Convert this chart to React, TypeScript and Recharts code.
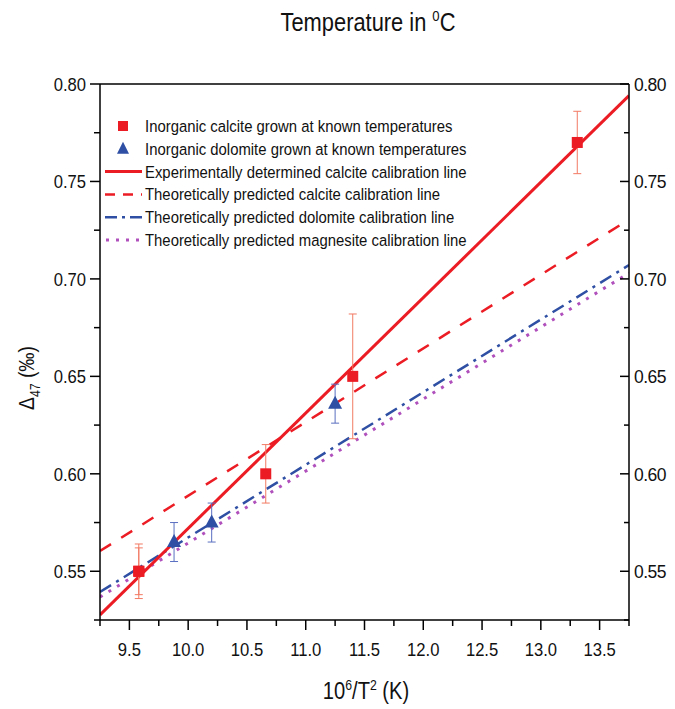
import React from 'react';
import { ComposedChart, Line, Scatter, XAxis, YAxis, ErrorBar, Legend } from 'recharts';

const W = 675;
const H = 709;
const FONT = "'Liberation Sans', Arial, sans-serif";
const SX = 0.875; // horizontal squeeze, the original uses a narrow Helvetica

// axes
const xDomain = [9.25, 13.75];
const yDomain = [0.525, 0.8];
const xTicks = [9.25, 9.5, 9.75, 10.0, 10.25, 10.5, 10.75, 11.0, 11.25, 11.5, 11.75, 12.0, 12.25, 12.5, 12.75, 13.0, 13.25, 13.5, 13.75];
const yTicks = [0.525, 0.55, 0.575, 0.6, 0.625, 0.65, 0.675, 0.7, 0.725, 0.75, 0.775, 0.8];
const tempTicks = [50, 40, 30, 20, 10, 0];
const tempPos = tempTicks.map((t) => 1e6 / Math.pow(t + 273.15, 2));

// inorganic calcite (red squares)
const calciteX = [9.58, 9.58, 10.66, 11.4, 13.31];
const calciteY = [0.55, 0.55, 0.6, 0.65, 0.77];
const calciteErr = [0.014, 0.012, 0.015, 0.032, 0.016];

// inorganic dolomite (blue triangles)
const dolomiteX = [9.88, 10.2, 11.25];
const dolomiteY = [0.565, 0.575, 0.636];
const dolomiteErr = [0.01, 0.01, 0.01];

// calibration lines, end points at the axis limits
const lineX = [9.25, 13.75];
const expCalcite = [0.5276, 0.794];
const theoCalcite = [0.5604, 0.7305];
const theoDolomite = [0.5394, 0.7071];
const theoMagnesite = [0.5368, 0.703];

const RED = '#ec1c24';
const BLUE = '#2e4fa3';
const MAGENTA = '#b050bc';

const lineRows = lineX.map((x, i) => ({
  x,
  exp: expCalcite[i],
  calc: theoCalcite[i],
  dolo: theoDolomite[i],
  magn: theoMagnesite[i],
}));
const calciteRows = calciteX.map((x, i) => ({ x, y: calciteY[i], err: calciteErr[i] }));
const dolomiteRows = dolomiteX.map((x, i) => ({ x, y: dolomiteY[i], err: dolomiteErr[i] }));

const legendItems = [
  { label: 'Inorganic calcite grown at known temperatures', kind: 'square' },
  { label: 'Inorganic dolomite grown at known temperatures', kind: 'triangle' },
  { label: 'Experimentally determined calcite calibration line', kind: 'solid' },
  { label: 'Theoretically predicted calcite calibration line', kind: 'dashed' },
  { label: 'Theoretically predicted dolomite calibration line', kind: 'dashdot' },
  { label: 'Theoretically predicted magnesite calibration line', kind: 'dotted' },
];

const isMajor = (v: number, step: number) => Math.abs(v / step - Math.round(v / step)) < 1e-6;

// narrow text helper
const NText = ({ x, y, size, anchor = 'start', rotate = 0, children }: any) => (
  <text
    transform={`translate(${x},${y}) rotate(${rotate}) scale(${SX},1)`}
    textAnchor={anchor}
    fontSize={size}
    fontFamily={FONT}
    fill="#111"
  >
    {children}
  </text>
);

const BottomTick = (p: any) => {
  const { x, y, payload } = p;
  const major = isMajor(payload.value, 0.5);
  return (
    <g>
      <line x1={x} x2={x} y1={y} y2={y + (major ? 10 : 6)} stroke="#000" strokeWidth={1.5} />
      {major && (
        <NText x={x} y={y + 36} size={19} anchor="middle">
          {payload.value.toFixed(1)}
        </NText>
      )}
    </g>
  );
};

const TopTick = (p: any) => {
  const { x, y, index } = p;
  return (
    <g>
      <line x1={x} x2={x} y1={y} y2={y + 12} stroke="#000" strokeWidth={1.5} />
      <text x={x} y={y - 9} textAnchor="middle" fontSize={19.5} letterSpacing={-0.8} fontFamily={FONT} fill="#111">
        {tempTicks[index]}
      </text>
    </g>
  );
};

const LeftTick = (p: any) => {
  const { x, y, payload } = p;
  const major = isMajor(payload.value, 0.05);
  return (
    <g>
      <line x1={x} x2={x - (major ? 10 : 6)} y1={y} y2={y} stroke="#000" strokeWidth={1.5} />
      {major && (
        <NText x={x - 14} y={y + 7} size={19} anchor="end">
          {payload.value.toFixed(2)}
        </NText>
      )}
    </g>
  );
};

const RightTick = (p: any) => {
  const { x, y, payload } = p;
  const major = isMajor(payload.value, 0.05);
  return (
    <g>
      <line x1={x} x2={x - (major ? 9 : 5)} y1={y} y2={y} stroke="#000" strokeWidth={1.5} />
      {major && (
        <text x={x + 5} y={y + 7} fontSize={17.5} letterSpacing={-0.5} fontFamily={FONT} fill="#111">
          {payload.value.toFixed(2)}
        </text>
      )}
    </g>
  );
};

const Square = (p: any) => <rect x={p.cx - 5.5} y={p.cy - 5.5} width={11} height={11} fill={RED} />;
const Triangle = (p: any) => (
  <path d={`M${p.cx},${p.cy - 8}L${p.cx + 7},${p.cy + 5}L${p.cx - 7},${p.cy + 5}Z`} fill={BLUE} />
);

const LegendBox = () => (
  <svg width={400} height={145} style={{ overflow: 'visible' }}>
    {legendItems.map((it, i) => {
      const cy = 14 + i * 22.8;
      let mark: React.ReactNode = null;
      if (it.kind === 'square') mark = <rect x={18} y={cy - 5} width={10} height={10} fill={RED} />;
      if (it.kind === 'triangle') mark = <path d={`M23,${cy - 7}L29,${cy + 5}L17,${cy + 5}Z`} fill={BLUE} />;
      if (it.kind === 'solid') mark = <line x1={5} x2={42} y1={cy} y2={cy} stroke={RED} strokeWidth={3} />;
      if (it.kind === 'dashed') mark = <line x1={5} x2={42} y1={cy} y2={cy} stroke={RED} strokeWidth={2.5} strokeDasharray="10 8" />;
      if (it.kind === 'dashdot') mark = <line x1={5} x2={42} y1={cy} y2={cy} stroke={BLUE} strokeWidth={2.5} strokeDasharray="12 5 3 5" />;
      if (it.kind === 'dotted') mark = <line x1={6} x2={42} y1={cy} y2={cy} stroke={MAGENTA} strokeWidth={3} strokeDasharray="3 7" />;
      return (
        <g key={it.label}>
          {mark}
          <NText x={45} y={cy + 6} size={17}>
            {it.label}
          </NText>
        </g>
      );
    })}
  </svg>
);

export default function App() {
  return (
    <div style={{ position: 'absolute', left: 0, top: 0, width: W, height: H, background: '#fff' }}>
      <ComposedChart width={W} height={H} data={lineRows} margin={{ top: 54, right: 6, bottom: 59, left: 60 }}>
        <XAxis
          dataKey="x"
          type="number"
          domain={xDomain}
          allowDataOverflow
          ticks={xTicks}
          interval={0}
          height={30}
          tickSize={0}
          tickMargin={0}
          tick={<BottomTick />}
          axisLine={{ stroke: '#000', strokeWidth: 1.5 }}
          tickLine={false}
        />
        <XAxis
          xAxisId="top"
          orientation="top"
          type="number"
          domain={xDomain}
          allowDataOverflow
          ticks={tempPos}
          interval={0}
          height={30}
          tickSize={0}
          tickMargin={0}
          tick={<TopTick />}
          axisLine={{ stroke: '#000', strokeWidth: 1.5 }}
          tickLine={false}
        />
        <YAxis
          type="number"
          domain={yDomain}
          allowDataOverflow
          ticks={yTicks}
          interval={0}
          width={40}
          tickSize={0}
          tickMargin={0}
          tick={<LeftTick />}
          axisLine={{ stroke: '#000', strokeWidth: 1.5 }}
          tickLine={false}
        />
        <YAxis
          yAxisId="right"
          orientation="right"
          type="number"
          domain={yDomain}
          allowDataOverflow
          ticks={yTicks}
          interval={0}
          width={40}
          tickSize={0}
          tickMargin={0}
          tick={<RightTick />}
          axisLine={{ stroke: '#000', strokeWidth: 1.5 }}
          tickLine={false}
        />
        <Legend
          layout="vertical"
          align="center"
          verticalAlign="middle"
          content={<LegendBox />}
          wrapperStyle={{ position: 'absolute', left: 100, top: 112, width: 400, height: 145 }}
        />
        <Line dataKey="magn" stroke={MAGENTA} strokeWidth={3} strokeDasharray="3 7" dot={false} activeDot={false} isAnimationActive={false} />
        <Line dataKey="dolo" stroke={BLUE} strokeWidth={2.5} strokeDasharray="13 6 3 6" dot={false} activeDot={false} isAnimationActive={false} />
        <Line dataKey="calc" stroke={RED} strokeWidth={2.5} strokeDasharray="13 12" dot={false} activeDot={false} isAnimationActive={false} />
        <Line dataKey="exp" stroke={RED} strokeWidth={3} dot={false} activeDot={false} isAnimationActive={false} />
        <Scatter data={calciteRows} dataKey="y" shape={<Square />} isAnimationActive={false}>
          <ErrorBar dataKey="err" direction="y" width={4} stroke="#f27a63" strokeWidth={1} />
        </Scatter>
        <Scatter data={dolomiteRows} dataKey="y" shape={<Triangle />} isAnimationActive={false}>
          <ErrorBar dataKey="err" direction="y" width={4} stroke="#5a6fc0" strokeWidth={1} />
        </Scatter>
      </ComposedChart>
      <svg width={W} height={H} style={{ position: 'absolute', left: 0, top: 0, pointerEvents: 'none' }}>
        <NText x={368} y={31} size={25} anchor="middle">
          Temperature in <tspan fontSize={15} dy={-10}>0</tspan><tspan dy={10}>C</tspan>
        </NText>
        <NText x={366} y={699} size={23} anchor="middle">
          10<tspan fontSize={14} dy={-9}>6</tspan><tspan dy={9}>/T</tspan><tspan fontSize={14} dy={-9}>2</tspan><tspan dy={9}> (K)</tspan>
        </NText>
        <NText x={34} y={378} size={22} anchor="middle" rotate={-90}>
          Δ<tspan fontSize={14} dy={6}>47</tspan><tspan dy={-6}> (‰)</tspan>
        </NText>
      </svg>
    </div>
  );
}
